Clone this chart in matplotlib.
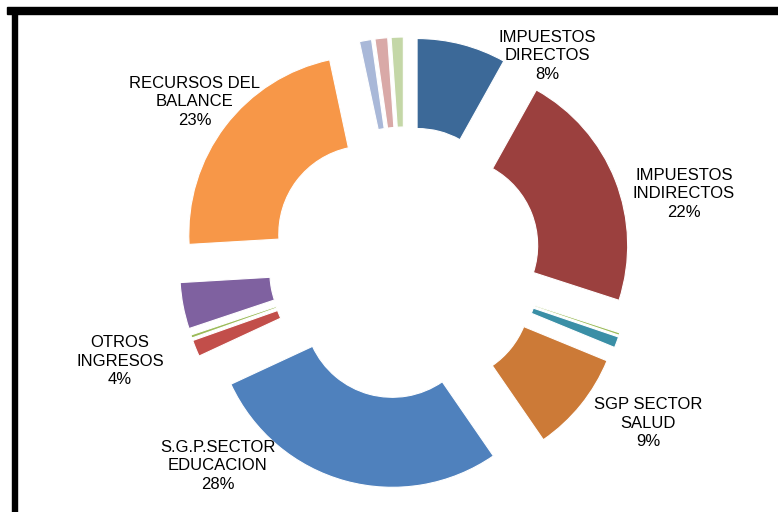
import matplotlib.pyplot as plt
from matplotlib.patches import Rectangle

# slices clockwise from 12 o'clock (percent of total)
names = ["IMPUESTOS\nDIRECTOS", "IMPUESTOS\nINDIRECTOS", "", "", "SGP SECTOR\nSALUD",
         "S.G.P.SECTOR\nEDUCACION", "", "", "OTROS\nINGRESOS", "RECURSOS DEL\nBALANCE",
         "", "", ""]
values = [8.1, 21.9, 0.22, 1.0, 9.2, 27.7, 1.5, 0.28, 4.2, 22.6, 1.1, 1.15, 1.1]
colors = ["#3C6998", "#9B403E", "#9BBB59", "#3A8FA6", "#CC7A37", "#4F81BD", "#C24E4A",
          "#9BBB59", "#7F61A0", "#F79748", "#A9B8D8", "#D9A9A7", "#C4D7A7"]

# label anchor positions (pixels, y measured from the top)
label_pos = {0: (547, 56), 1: (684, 194), 4: (648, 423), 5: (218, 466), 8: (120, 361), 9: (195, 102)}

W, H = 778, 512
fig = plt.figure(figsize=(W / 100, H / 100), dpi=100)
ax = fig.add_axes([0, 0, 1, 1])

ax.pie(values, colors=colors, startangle=90, counterclock=False,
       radius=178, center=(405, H - 263), explode=[48] * len(values),
       wedgeprops=dict(width=90, edgecolor="white", linewidth=0.8))

ax.set_xlim(0, W)
ax.set_ylim(0, H)
ax.set_aspect("equal")
ax.axis("off")

total = sum(values)
for i, (x, y) in label_pos.items():
    pct = round(values[i] / total * 100)
    ax.text(x, H - y, f"{names[i]}\n{pct}%", ha="center", va="center",
            fontsize=12, family="Liberation Sans", linespacing=1.3, color="#000000")

# frame
ax.add_patch(Rectangle((7, H - 14), W - 7, 7, color="black", clip_on=False))
ax.add_patch(Rectangle((12, 0), 5, H - 9, color="black", clip_on=False))

fig.savefig("out.png", dpi=100, facecolor="white")
